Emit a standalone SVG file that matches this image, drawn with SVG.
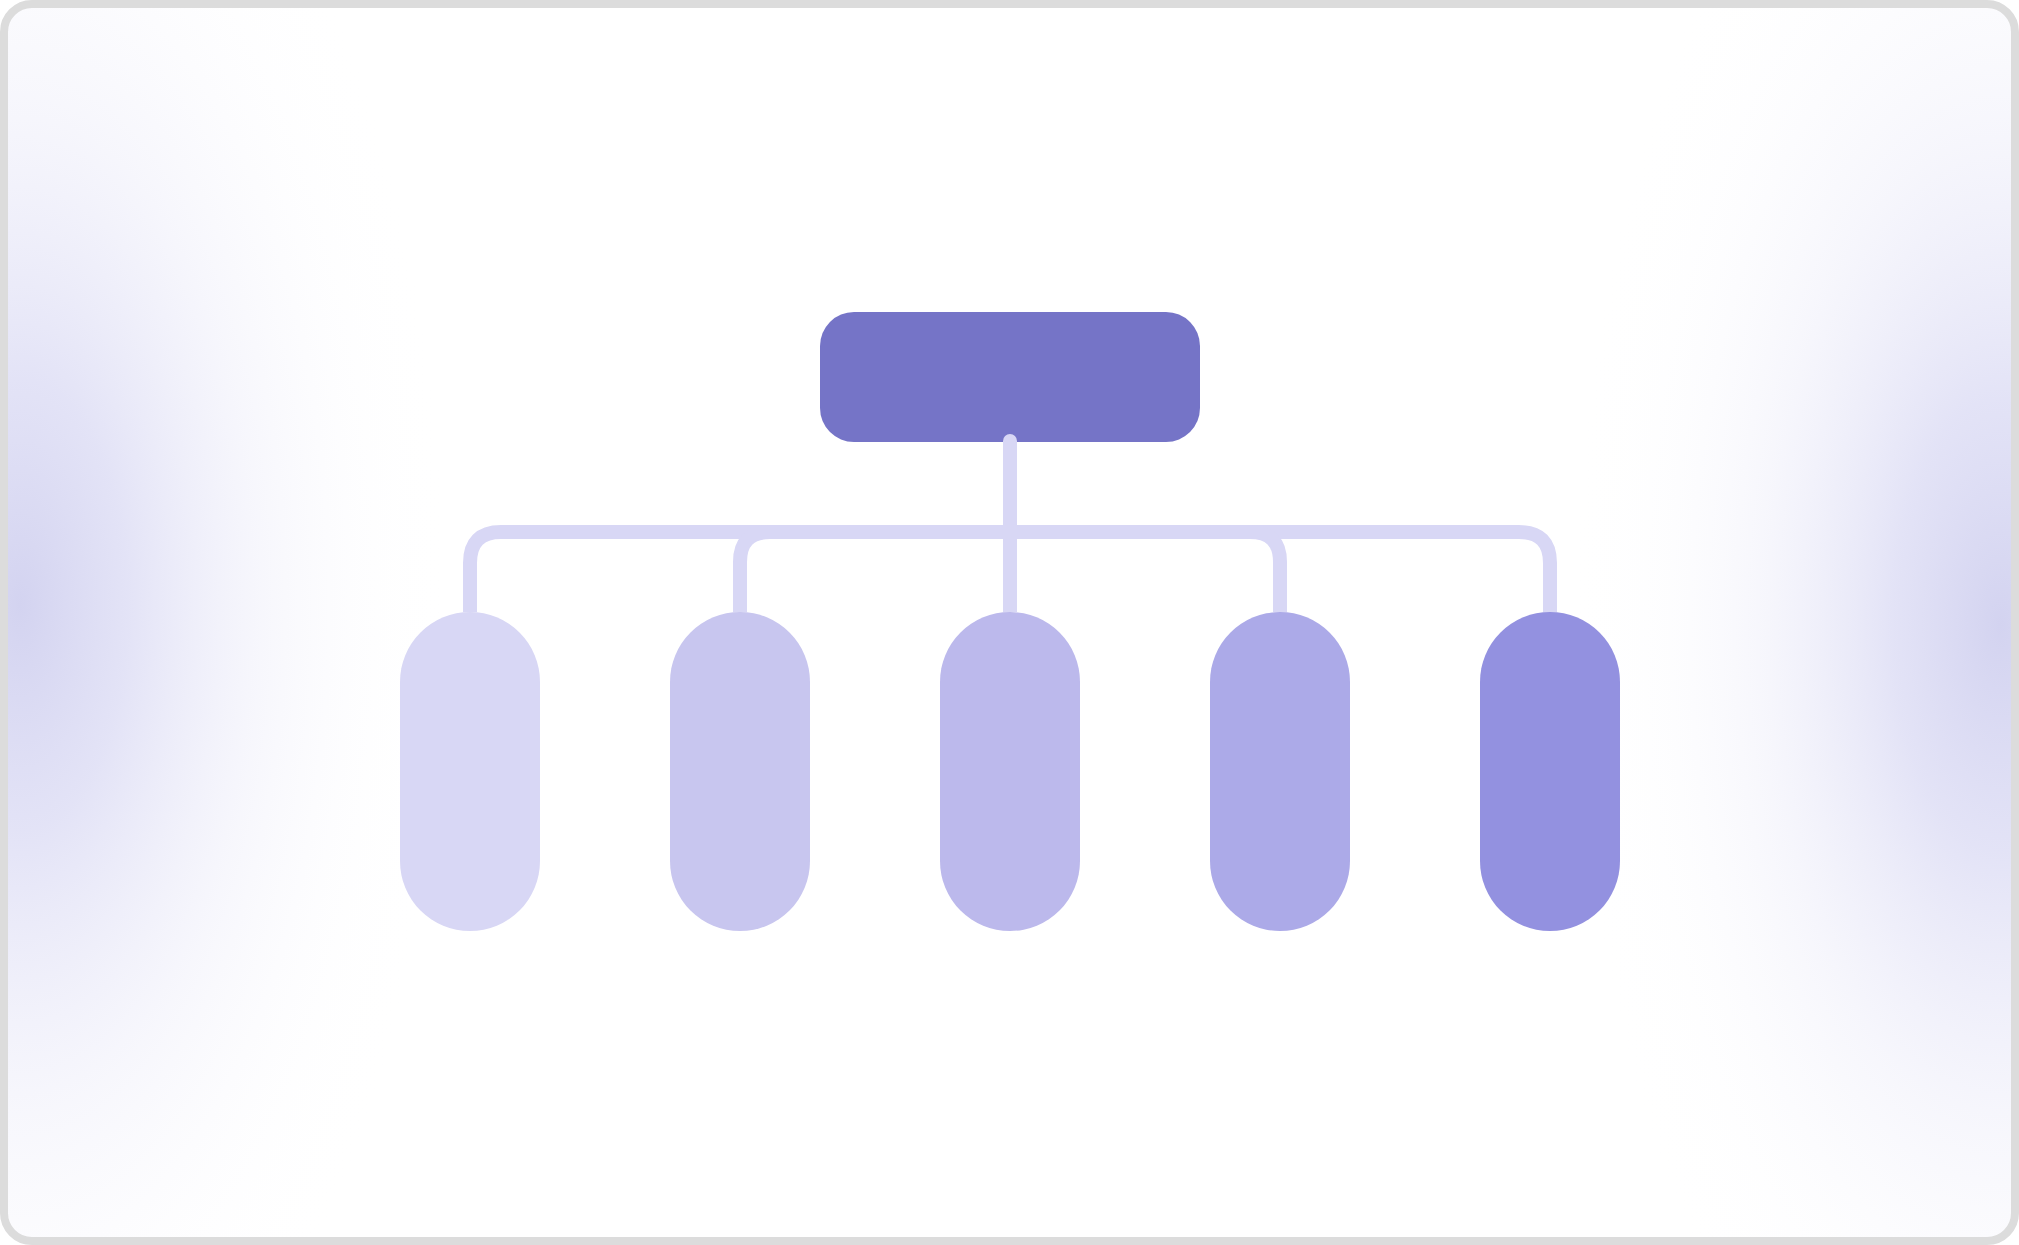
<svg xmlns="http://www.w3.org/2000/svg" width="2019" height="1245" viewBox="0 0 2019 1245">
<defs>
<radialGradient id="gl" gradientUnits="userSpaceOnUse" cx="20" cy="605" r="430" gradientTransform="translate(20 605) scale(1 2.1) translate(-20 -605)">
<stop offset="0" stop-color="#d3d3f0" stop-opacity="1"/>
<stop offset="0.25" stop-color="#dedef5" stop-opacity="0.85"/>
<stop offset="0.55" stop-color="#ececf9" stop-opacity="0.45"/>
<stop offset="0.8" stop-color="#f6f6fc" stop-opacity="0.15"/>
<stop offset="1" stop-color="#ffffff" stop-opacity="0"/>
</radialGradient>
<radialGradient id="gr" gradientUnits="userSpaceOnUse" cx="2000" cy="625" r="430" gradientTransform="translate(2000 625) scale(1 2.1) translate(-2000 -625)">
<stop offset="0" stop-color="#d3d3f0" stop-opacity="1"/>
<stop offset="0.25" stop-color="#dedef5" stop-opacity="0.85"/>
<stop offset="0.55" stop-color="#ececf9" stop-opacity="0.45"/>
<stop offset="0.8" stop-color="#f6f6fc" stop-opacity="0.15"/>
<stop offset="1" stop-color="#ffffff" stop-opacity="0"/>
</radialGradient>
<clipPath id="frame"><rect x="4" y="4" width="2011" height="1237" rx="28"/></clipPath>
<style>
.conn{fill:none;stroke:#d8d7f5;stroke-width:14;}
.top{fill:#7574c7;}
</style>
</defs>
<rect width="2019" height="1245" fill="#ffffff"/>
<g clip-path="url(#frame)">
<rect width="2019" height="1245" fill="url(#gl)"/>
<rect width="2019" height="1245" fill="url(#gr)"/>
</g>
<rect x="4" y="4" width="2011" height="1237" rx="28" fill="none" stroke="#dcdcdc" stroke-width="8"/>
<g id="root"><rect class="top" x="820" y="312" width="380" height="130" rx="34"/></g>
<g id="connectors">
<path class="conn" d="M470 612 V563 Q470 532 501 532 H1519 Q1550 532 1550 563 V612"/>
<path class="conn" d="M1010 532 H770 Q740 532 740 562 V612"/>
<path class="conn" d="M1010 532 H1250 Q1280 532 1280 562 V612"/>
<path class="conn" d="M1010 612 V441"/>
<circle cx="1010" cy="441" r="7" fill="#d8d7f5"/>
</g>
<g id="child1"><rect x="400" y="612" width="140" height="319" rx="70" fill="#d8d7f5"/></g>
<g id="child2"><rect x="670" y="612" width="140" height="319" rx="70" fill="#c8c6ef"/></g>
<g id="child3"><rect x="940" y="612" width="140" height="319" rx="70" fill="#bcb9ec"/></g>
<g id="child4"><rect x="1210" y="612" width="140" height="319" rx="70" fill="#acaae8"/></g>
<g id="child5"><rect x="1480" y="612" width="140" height="319" rx="70" fill="#9391e0"/></g>
</svg>
